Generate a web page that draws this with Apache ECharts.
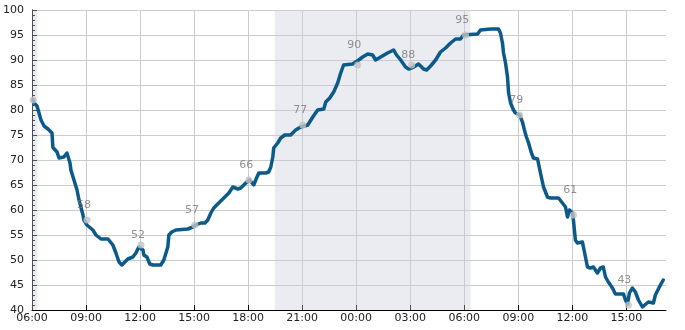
<!DOCTYPE html>
<html>
<head>
<meta charset="utf-8">
<script src="https://cdn.jsdelivr.net/npm/echarts@6/dist/echarts.min.js"></script>
<style>
html,body{margin:0;padding:0;background:#fff;}
#chart{width:685px;height:330px;}
</style>
</head>
<body>
<div id="chart"></div>
<script>
// hours elapsed since 06:00 on day 1
const lineHours = [0.06,0.11,0.28,0.39,0.50,0.67,0.89,1.00,1.11,1.16,1.22,1.39,1.50,1.61,1.77,1.94,2.05,2.11,2.16,2.33,2.50,2.61,2.83,2.88,3.05,3.16,3.38,3.55,3.83,4.22,4.33,4.49,4.66,4.83,4.99,5.10,5.32,5.60,5.77,5.93,6.16,6.21,6.38,6.54,6.71,7.15,7.32,7.54,7.60,7.76,7.99,8.65,8.93,9.10,9.37,9.60,9.76,9.93,10.09,10.37,10.65,10.93,11.15,11.43,11.59,11.87,12.09,12.15,12.31,12.42,12.59,12.98,13.14,13.26,13.37,13.42,13.64,13.81,14.03,14.36,14.64,14.92,15.31,15.59,15.86,16.20,16.31,16.53,16.75,16.97,17.14,17.30,17.80,17.97,18.14,18.36,18.64,18.91,19.08,19.36,19.74,20.08,20.24,20.47,20.74,20.91,21.19,21.46,21.74,21.91,22.13,22.41,22.68,22.96,23.24,23.52,23.79,23.96,24.74,24.90,25.46,25.90,26.01,26.12,26.18,26.29,26.40,26.46,26.57,26.73,26.84,27.07,27.23,27.34,27.45,27.57,27.73,27.84,28.07,28.23,28.40,28.62,28.79,29.23,29.45,29.62,29.73,29.84,30.01,30.06,30.17,30.28,30.56,30.67,30.84,31.00,31.17,31.39,31.56,31.72,31.84,32.00,32.23,32.39,32.84,32.95,33.06,33.17,33.33,33.50,33.67,33.89,34.00,34.22,34.50,34.61,34.89,35.05];
const lineValues = [82,81.4,80.8,79.4,78,76.8,76.2,76.2,75.4,72.5,72.2,71.6,70.4,70,70.6,71.4,71.6,69.4,68,66,64,62,59,58,57,56.6,56,55,54.2,54.2,54.6,53,51.4,49.6,49,49.4,50.2,50.6,51.4,52.6,52,51,50.6,49.2,49,49,50,52.6,55,55.6,56,56.2,56.6,57,57.4,57.4,58,59.4,60.4,61.4,62.4,63.4,64.6,64.2,64.4,65.4,66,66.4,65,66,67.4,67.4,67.6,68.6,70.6,72.4,73.4,74.4,75,75,76,76.6,77,78.6,80,80.2,81.6,82.4,83.6,85.4,87.4,89,89.2,89.6,90,90.6,91.2,91,90,90.6,91.4,92,91,90,88.6,88.2,88.6,89.2,88.2,88,88.8,90,91.6,92.4,93.4,94.2,94.2,95,95.2,96,96.2,96.2,95.4,93.4,91.4,89.4,86.6,83.4,81.4,80,79.4,79,77.6,76,74.6,73.4,71.4,70.4,70.2,67.4,64.6,62.6,62.4,62.4,61.4,60.6,58.6,60,59.4,58,54,53.4,53.6,53.4,48.6,48.4,48.6,47.4,48.4,48.6,46.6,45.6,44.4,43.2,43.2,42,41.2,43.4,44.4,43.6,42,40.6,41,41.6,41.4,43,45,46];

// sampled readings (grey dots)
const dotHours = [0.06,3.05,6.05,9.04,12.04,15.03,18.08,21.08,24.07,27.07,30.06,33.11];
const dotValues = [82,58,53,57,66,77,89,89,95,79,59,41];

// 3-hourly labels
const labelHours = [3,6,9,12,15,18,21,24,27,30,33];
const labelValues = [58,52,57,66,77,90,88,95,79,61,43];

// night periods (hours since 06:00)
const nightStart = [0, 13.48];
const nightEnd = [0.3, 24.35];

const xMax = 35.2;

const chart = echarts.init(document.getElementById('chart'), null, {renderer: 'canvas'});
const pad = n => (n < 10 ? '0' : '') + n;
const font = 'DejaVu Sans';

const lineData = lineHours.map((h, i) => [h, lineValues[i]]);
const dotData = dotHours.map((h, i) => [h, dotValues[i]]);
const labelData = labelHours.map((h, i) => [h, labelValues[i]]);
const areas = nightStart.map((s, i) => [{xAxis: s}, {xAxis: nightEnd[i]}]);

chart.setOption({
  animation: false,
  backgroundColor: '#ffffff',
  grid: {left: 31, right: 19, top: 10, bottom: 20, containLabel: false},
  xAxis: {
    type: 'value', min: 0, max: xMax, interval: 3,
    axisLine: {show: true, onZero: false, lineStyle: {color: '#000', width: 1}},
    axisTick: {show: true, inside: true, length: 5, lineStyle: {color: '#000'}},
    axisLabel: {
      color: '#222', fontFamily: font, fontSize: 11, margin: 3, showMaxLabel: false,
      formatter: v => pad((6 + Math.round(v)) % 24) + ':00'
    },
    splitLine: {show: true, showMaxLine: false, lineStyle: {color: '#cccccc', width: 1}}
  },
  yAxis: {
    type: 'value', min: 40, max: 100, interval: 5,
    axisLine: {show: true, lineStyle: {color: '#000', width: 1}},
    axisTick: {show: true, inside: true, length: 5, lineStyle: {color: '#000'}},
    minorTick: {show: true, splitNumber: 5, length: 3, lineStyle: {color: '#000'}},
    axisLabel: {color: '#222', fontFamily: font, fontSize: 11, margin: 8},
    splitLine: {show: true, lineStyle: {color: '#cccccc', width: 1}}
  },
  series: [
    {
      type: 'line',
      data: lineData,
      showSymbol: false,
      lineStyle: {color: '#0b5a8a', width: 3.5, join: 'round', cap: 'round'},
      z: 3,
      markArea: {
        silent: true,
        itemStyle: {color: 'rgba(200,204,220,0.38)'},
        data: areas
      }
    },
    {
      type: 'scatter',
      data: dotData,
      symbol: 'circle',
      symbolSize: 7,
      itemStyle: {color: '#c3c3c3'},
      z: 4
    },
    {
      type: 'scatter',
      data: labelData,
      symbolSize: 0,
      z: 5,
      label: {
        show: true, position: 'inside', offset: [-2, -15],
        color: '#777', fontFamily: font, fontSize: 11,
        formatter: p => String(p.value[1])
      }
    }
  ]
});
</script>
</body>
</html>
